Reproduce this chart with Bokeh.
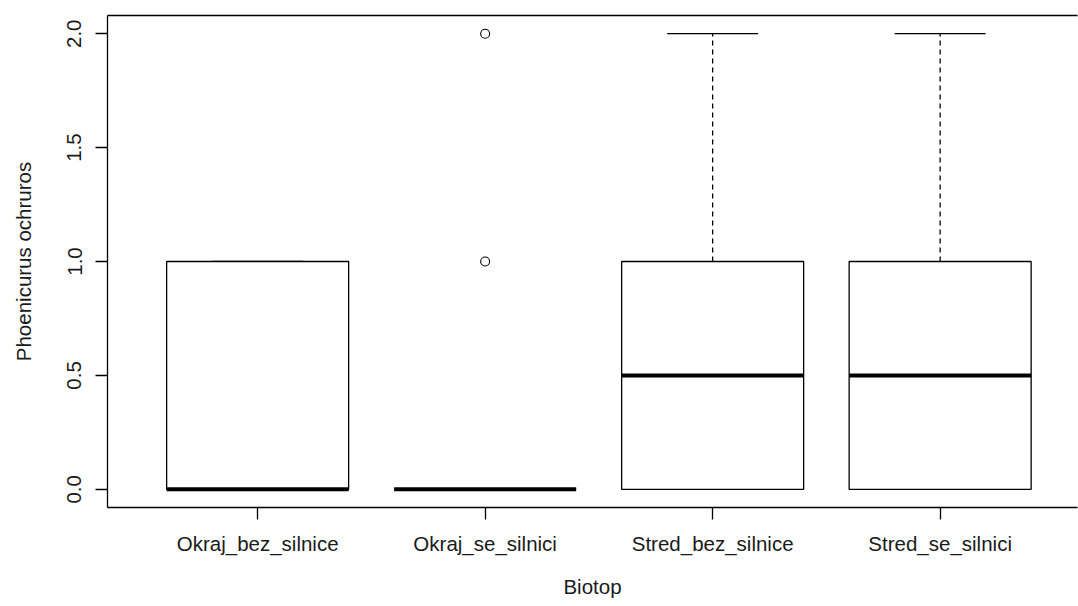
from bokeh.plotting import figure
from bokeh.models import FixedTicker, PrintfTickFormatter, LinearAxis, Range1d, ColumnDataSource
from bokeh.embed import file_html
from bokeh.resources import INLINE

# ---- data ----
categories = ["Okraj_bez_silnice", "Okraj_se_silnici", "Stred_bez_silnice", "Stred_se_silnici"]
lower_whisker = [0, 0, 0, 0]
q1 = [0, 0, 0, 0]
median = [0, 0, 0.5, 0.5]
q3 = [1, 0, 1, 1]
upper_whisker = [1, 0, 2, 2]
outlier_group = [2, 2]
outlier_value = [1, 2]
y_ticks = [0, 0.5, 1.0, 1.5, 2.0]

FONT = "Liberation Sans"
BOXW = 0.8
STAPLEW = 0.4

W, H = 1078, 606
LEFT, TOP, BOTTOM, RIGHT = 107, 15, 99, 1
PX_PER_UNIT = 227.5

pos = list(range(1, len(categories) + 1))
src = ColumnDataSource(dict(
    x=pos,
    x0=[x - BOXW / 2 for x in pos],
    x1=[x + BOXW / 2 for x in pos],
    s0=[x - STAPLEW / 2 for x in pos],
    s1=[x + STAPLEW / 2 for x in pos],
    lo=lower_whisker, q1=q1, med=median, q3=q3, hi=upper_whisker,
))

x_start = 0.34
x_end = x_start + (W - LEFT - RIGHT) / PX_PER_UNIT

p = figure(width=W, height=H, output_backend="svg", toolbar_location=None,
           x_range=Range1d(x_start, x_end), y_range=Range1d(-0.08, 2.08),
           min_border_left=LEFT, min_border_top=TOP, min_border_right=RIGHT,
           min_border_bottom=BOTTOM)
p.outline_line_color = None
p.xgrid.visible = False
p.ygrid.visible = False
p.background_fill_color = "white"
p.border_fill_color = "white"

# whiskers (dashed)
p.segment(x0="x", x1="x", y0="q3", y1="hi", source=src, line_color="black",
          line_width=1.3, line_dash="5 4")
p.segment(x0="x", x1="x", y0="q1", y1="lo", source=src, line_color="black",
          line_width=1.3, line_dash="5 4")
# staples
p.segment(x0="s0", x1="s1", y0="hi", y1="hi", source=src, line_color="black", line_width=1.3)
p.segment(x0="s0", x1="s1", y0="lo", y1="lo", source=src, line_color="black", line_width=1.3)
# boxes
p.quad(left="x0", right="x1", bottom="q1", top="q3", source=src,
       fill_color="white", line_color="black", line_width=1.3)
# medians
p.segment(x0="x0", x1="x1", y0="med", y1="med", source=src, line_color="black",
          line_width=4, line_cap="butt")
# outliers
p.scatter(x=outlier_group, y=outlier_value, marker="circle", size=9,
          fill_color=None, line_color="black", line_width=1.1)

# axes
for ax in (p.xaxis[0], p.yaxis[0]):
    ax.axis_line_color = "black"
    ax.axis_line_width = 1.3
    ax.major_tick_line_color = "black"
    ax.major_tick_line_width = 1.3
    ax.major_tick_in = 0
    ax.major_tick_out = 12
    ax.minor_tick_line_color = None
    ax.major_label_text_font = FONT
    ax.major_label_text_font_size = "20.5px"
    ax.major_label_text_color = "#1a1a1a"
    ax.axis_label_text_font = FONT
    ax.axis_label_text_font_size = "20.5px"
    ax.axis_label_text_font_style = "normal"
    ax.axis_label_text_color = "#1a1a1a"

p.xaxis.ticker = FixedTicker(ticks=pos)
p.xaxis.major_label_overrides = {x: c for x, c in zip(pos, categories)}
p.xaxis.major_label_standoff = 12
p.xaxis.axis_label = "Biotop"
p.xaxis.axis_label_standoff = 17

p.yaxis.ticker = FixedTicker(ticks=y_ticks)
p.yaxis.formatter = PrintfTickFormatter(format="%.1f")
p.yaxis.major_label_orientation = "parallel"
p.yaxis.major_label_standoff = 14
p.yaxis.axis_label = "Phoenicurus ochruros"
p.yaxis.axis_label_standoff = 30

# top frame line
top = LinearAxis(ticker=FixedTicker(ticks=[]), major_label_text_font_size="0px",
                 axis_line_color="black", axis_line_width=1.3,
                 major_tick_line_color=None, minor_tick_line_color=None)
p.add_layout(top, "above")

open("out.html", "w").write(file_html(p, INLINE))
